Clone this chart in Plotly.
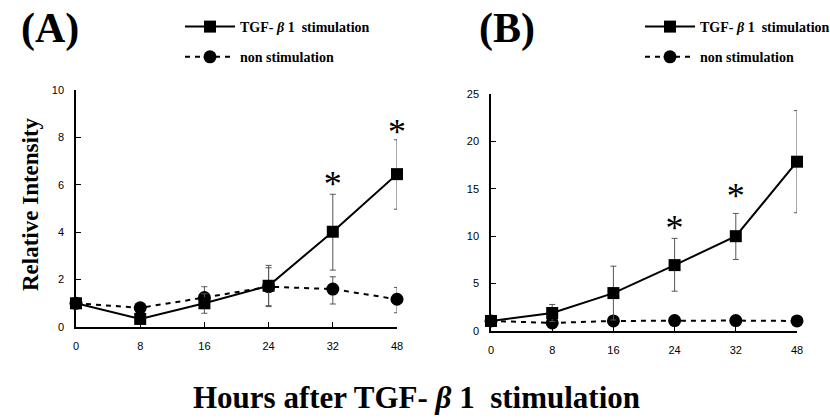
import plotly.graph_objects as go

hours = ["0", "8", "16", "24", "32", "48"]

# Panel A
a_tgf = [1.0, 0.34, 1.0, 1.74, 4.02, 6.45]
a_tgf_up = [0.0, 0.1, 0.4, 0.86, 1.58, 1.45]
a_tgf_dn = [0.0, 0.1, 0.42, 0.88, 1.62, 1.48]
a_non = [1.0, 0.81, 1.24, 1.7, 1.6, 1.17]
a_non_up = [0.0, 0.1, 0.46, 0.8, 0.52, 0.5]
a_non_dn = [0.0, 0.1, 0.46, 0.8, 0.63, 0.57]
a_star_x = ["32", "48"]
a_star_y = [5.9, 8.1]

# Panel B
b_tgf = [1.06, 1.9, 4.0, 6.95, 10.0, 17.86]
b_tgf_up = [0.0, 0.9, 2.84, 2.82, 2.4, 5.39]
b_tgf_dn = [0.0, 0.9, 2.84, 2.75, 2.45, 5.39]
b_non = [1.06, 0.85, 1.06, 1.1, 1.1, 1.06]
b_non_err = [0.0, 0.1, 0.1, 0.1, 0.1, 0.1]
b_star_x = ["24", "32", "48"]
b_star_y = [10.5, 13.9, 25.1]

SERIF = "Liberation Serif"
SANS = "Liberation Sans"
ERR = dict(type="data", symmetric=False, color="#555", thickness=1, width=3)

fig = go.Figure()

def add_pair(xa, ya, tgf, up, dn, non, nup, ndn, leg, sx, sy):
    fig.add_trace(go.Scatter(
        x=hours, y=non, xaxis=xa, yaxis=ya, mode="lines+markers",
        name="<b>non stimulation</b>", legend=leg, legendrank=2, legendgroup=leg + "n",
        line=dict(color="black", width=2, dash="5px,5px"),
        marker=dict(symbol="circle", size=13, color="black"),
        error_y=dict(ERR, array=nup, arrayminus=ndn), cliponaxis=False))
    fig.add_trace(go.Scatter(
        x=hours, y=tgf, xaxis=xa, yaxis=ya, mode="lines+markers",
        name="<b>TGF- <i>β</i> 1  stimulation</b>", legend=leg, legendrank=1,
        legendgroup=leg + "t",
        line=dict(color="black", width=2),
        marker=dict(symbol="square", size=12, color="black"),
        error_y=dict(ERR, array=up, arrayminus=dn), cliponaxis=False))
    fig.add_trace(go.Scatter(
        x=sx, y=sy, xaxis=xa, yaxis=ya, mode="text", text=["*"] * len(sx),
        textposition="middle center", showlegend=False, cliponaxis=False,
        textfont=dict(family=SERIF, size=36, color="black"), hoverinfo="skip"))

add_pair("x", "y", a_tgf, a_tgf_up, a_tgf_dn, a_non, a_non_up, a_non_dn, "legend",
         a_star_x, a_star_y)
add_pair("x2", "y2", b_tgf, b_tgf_up, b_tgf_dn, b_non, b_non_err, b_non_err, "legend2",
         b_star_x, b_star_y)

W, H = 830, 418
def px(x0, x1):
    return [x0 / W, x1 / W]
def py(top, bot):
    return [(H - bot) / H, (H - top) / H]

xcommon = dict(type="category", categoryorder="array", categoryarray=hours,
               range=[0, 5], showline=True, linecolor="black", linewidth=1.5,
               ticks="inside", ticklen=5, tickcolor="black", showgrid=False,
               zeroline=False, tickfont=dict(family=SANS, size=11, color="black"),
               ticklabelstandoff=8)
ycommon = dict(showline=True, linecolor="black", linewidth=1.5, ticks="inside",
               ticklen=5, tickcolor="black", showgrid=False, zeroline=False,
               tickfont=dict(family=SANS, size=11, color="black"), ticklabelstandoff=8)

leg_common = dict(font=dict(family=SERIF, size=14, color="black"), bgcolor="rgba(0,0,0,0)",
                  itemwidth=50, tracegroupgap=9, traceorder="grouped", itemsizing="trace",
                  xanchor="left", yanchor="top")

fig.update_layout(
    width=W, height=H, margin=dict(l=0, r=0, t=0, b=0, autoexpand=False),
    paper_bgcolor="white", plot_bgcolor="white", showlegend=True,
    xaxis=dict(xcommon, domain=px(76, 397), anchor="y"),
    yaxis=dict(ycommon, domain=py(90, 327), range=[0, 10], dtick=2, anchor="x"),
    xaxis2=dict(xcommon, domain=px(491, 797), anchor="y2"),
    yaxis2=dict(ycommon, domain=py(94, 331), range=[0, 25], dtick=5, anchor="x2"),
    legend=dict(leg_common, x=180 / W, y=1 - 11 / H),
    legend2=dict(leg_common, x=640 / W, y=1 - 11 / H),
)

def pann(x, y, text, size, **kw):
    return dict(x=x / W, y=1 - y / H, xref="paper", yref="paper", text=text,
                showarrow=False, xanchor="center", yanchor="middle",
                font=dict(family=SERIF, size=size, color="black"), **kw)

ann = [
    pann(50, 29, "<b>(A)</b>", 42),
    pann(507, 29, "<b>(B)</b>", 42),
    pann(30, 204, "<b>Relative Intensity</b>", 23, textangle=-90),
    pann(416, 397, "<b>Hours after TGF- <i>β</i> 1  stimulation</b>", 31),
]
fig.update_layout(annotations=ann)

fig.write_html("out.html", config={"displayModeBar": False},
               post_script="document.body.style.margin='0';document.body.style.overflow='hidden';")
